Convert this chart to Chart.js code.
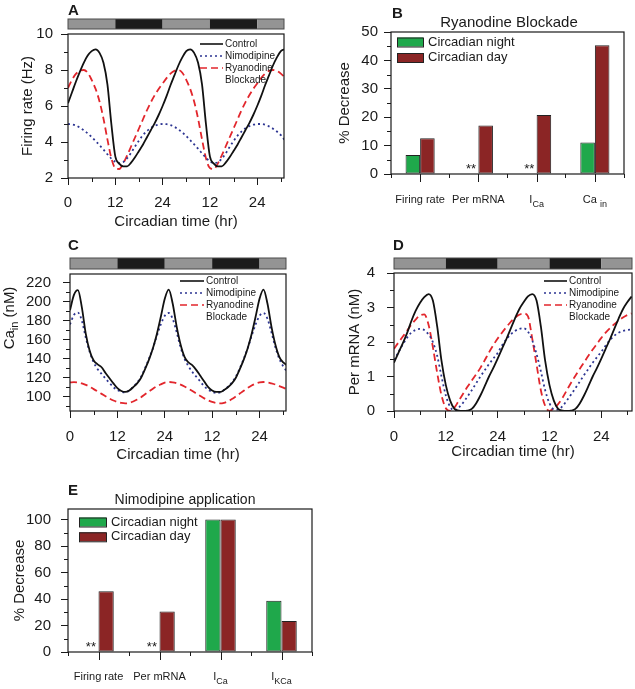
<!DOCTYPE html>
<html>
<head>
<meta charset="utf-8">
<script src="https://cdn.jsdelivr.net/npm/chart.js@4.4.0/dist/chart.umd.min.js"></script>
<style>
  body { margin: 0; background: #fff; }
  #fig { position: relative; width: 635px; height: 689px; overflow: hidden; }
  #fig canvas { position: absolute; }
</style>
</head>
<body>
<div id="fig">
  <canvas id="panelA" width="318" height="240" style="left:0;top:0"></canvas>
  <canvas id="panelB" width="315" height="215" style="left:320px;top:0"></canvas>
  <canvas id="panelC" width="318" height="240" style="left:0;top:230px"></canvas>
  <canvas id="panelD" width="315" height="240" style="left:320px;top:230px"></canvas>
  <canvas id="panelE" width="318" height="209" style="left:0;top:480px"></canvas>
</div>
<script>
const FONT = '"Liberation Sans", Arial, sans-serif';
const INK = '#1a1a1a';
Chart.defaults.font.family = FONT;
Chart.defaults.color = INK;

// ---- data ----
const hours = [0, 1, 2, 3, 4, 5, 6, 7, 8, 9, 10, 11, 12, 13, 14, 15, 16, 17, 18, 19, 20, 21, 22, 23,
  24, 25, 26, 27, 28, 29, 30, 31, 32, 33, 34, 35, 36, 37, 38, 39, 40, 41, 42, 43, 44, 45, 46, 47,
  48, 49, 50, 51, 52, 53, 54, 55];
const timeTicks = [0, 12, 24, 36, 48];
const timeTickLabels = ['0', '12', '24', '12', '24'];
const timeMinor = [6, 18, 30, 42, 54];
const phaseEdges = [0, 12, 24, 36, 48, 56];
const phaseDark = [false, true, false, true, false];
const seriesNames = ['Control', 'Nimodipine', 'Ryanodine Blockade'];

// A: firing rate (Hz)
const firingControl = [6.15, 6.75, 7.35, 7.9, 8.4, 8.8, 9.05, 9.15, 8.95, 8.4, 7.2, 5.0, 3.2, 2.8, 2.65, 2.65, 2.85, 3.15, 3.5, 3.85, 4.25, 4.65, 5.05, 5.5,
  6.0, 6.55, 7.15, 7.7, 8.25, 8.7, 9.05, 9.15, 8.95, 8.4, 7.2, 5.0, 3.2, 2.8, 2.65, 2.65, 2.85, 3.15, 3.5, 3.85, 4.25, 4.65, 5.05, 5.5,
  6.0, 6.55, 7.15, 7.7, 8.25, 8.7, 9.05, 9.15];
const firingNimodipine = [5.0, 4.98, 4.92, 4.8, 4.65, 4.48, 4.28, 4.05, 3.82, 3.58, 3.32, 3.08, 2.9, 2.82, 2.88, 3.1, 3.4, 3.75, 4.08, 4.38, 4.6, 4.78, 4.9, 4.97,
  5.0, 4.99, 4.94, 4.84, 4.7, 4.53, 4.33, 4.1, 3.87, 3.63, 3.37, 3.12, 2.93, 2.83, 2.87, 3.07, 3.37, 3.72, 4.05, 4.35, 4.58, 4.76, 4.88, 4.96,
  5.0, 5.0, 4.96, 4.87, 4.74, 4.58, 4.38, 4.1];
const firingRyanodine = [7.0, 7.45, 7.78, 7.95, 8.0, 7.85, 7.45, 6.95, 6.25, 5.3, 4.15, 3.1, 2.55, 2.5, 2.8, 3.25, 3.75, 4.25, 4.75, 5.25, 5.75, 6.2, 6.6, 6.95,
  7.25, 7.55, 7.8, 7.95, 8.0, 7.85, 7.45, 6.95, 6.25, 5.3, 4.15, 3.1, 2.55, 2.5, 2.8, 3.25, 3.75, 4.25, 4.75, 5.25, 5.75, 6.2, 6.6, 6.95,
  7.25, 7.55, 7.8, 7.95, 8.0, 7.95, 7.8, 7.6];

// C: Ca_in (nM)
const caControl = [191, 207, 212, 194, 166, 148, 138, 134, 131, 125, 119.5, 114, 109, 106, 105, 106.5, 110, 114, 120, 129, 139, 151, 166, 184,
  203, 212.5, 198, 174, 155, 142, 136, 133, 128, 122, 116, 110, 106.5, 105, 105, 107, 110, 114, 120, 129, 139, 151, 166, 184,
  203, 212.5, 198, 174, 155, 142, 136, 133];
const caNimodipine = [176, 186, 188.5, 180, 162, 147, 136, 129, 124, 119, 114.5, 110, 107, 105, 104.5, 106.5, 110.5, 115, 121, 130, 140, 151, 164, 176,
  185, 188, 182, 168, 152, 140, 132, 126, 121, 116, 111, 107.5, 105, 104, 104.5, 107, 110.5, 115, 121, 130, 140, 151, 164, 176,
  185, 188, 182, 168, 152, 140, 132, 126];
const caRyanodine = [115, 115.3, 115, 114, 112.5, 110.5, 108, 105.5, 103, 100.5, 98, 96, 94.5, 93.5, 93, 93.5, 95, 97, 99.5, 102.5, 105.5, 108.5, 111, 113,
  114.8, 115.5, 115.2, 114.3, 112.8, 110.8, 108.5, 106, 103.3, 100.8, 98.3, 96.2, 94.5, 93.3, 93, 93.6, 95.2, 97.5, 100.3, 103.3, 106.3, 109.2, 111.8, 113.8,
  115.2, 115.5, 115, 114, 112.8, 111.2, 109.5, 107.7];

// D: Per mRNA (nM)
const perControl = [1.4, 1.68, 1.95, 2.25, 2.6, 2.9, 3.13, 3.3, 3.39, 3.2, 2.45, 1.45, 0.75, 0.3, 0.06, 0.01, 0, 0.01, 0.06, 0.22, 0.45, 0.72, 1.0, 1.25,
  1.52, 1.8, 2.08, 2.38, 2.68, 2.95, 3.15, 3.32, 3.39, 3.2, 2.45, 1.45, 0.75, 0.3, 0.06, 0.01, 0, 0.01, 0.06, 0.22, 0.45, 0.72, 1.0, 1.25,
  1.52, 1.8, 2.08, 2.38, 2.68, 2.95, 3.15, 3.32];
const perNimodipine = [1.48, 1.7, 1.92, 2.12, 2.27, 2.35, 2.38, 2.35, 2.22, 2.0, 1.6, 1.0, 0.45, 0.12, 0.02, 0.1, 0.24, 0.42, 0.6, 0.8, 1.0, 1.18, 1.36, 1.52,
  1.68, 1.9, 2.08, 2.22, 2.32, 2.38, 2.4, 2.3, 2.05, 1.65, 1.15, 0.6, 0.22, 0.05, 0.04, 0.14, 0.3, 0.48, 0.66, 0.85, 1.04, 1.22, 1.4, 1.56,
  1.72, 1.9, 2.06, 2.18, 2.27, 2.32, 2.35, 2.36];
const perRyanodine = [1.8, 1.98, 2.15, 2.32, 2.5, 2.65, 2.77, 2.8, 2.5, 1.85, 1.1, 0.45, 0.08, 0, 0.1, 0.3, 0.5, 0.7, 0.88, 1.06, 1.25, 1.47, 1.7, 1.91,
  2.1, 2.27, 2.43, 2.58, 2.7, 2.79, 2.83, 2.75, 2.1, 1.35, 0.6, 0.15, 0, 0.08, 0.2, 0.38, 0.6, 0.82, 1.02, 1.22, 1.41, 1.6, 1.78, 1.95,
  2.12, 2.27, 2.4, 2.52, 2.62, 2.71, 2.78, 2.83];

// B and E: % decrease
const barSeries = ['Circadian night', 'Circadian day'];
const ryanCategories = ['Firing rate', 'Per mRNA', 'I_{Ca}', 'Ca _{in}'];
const ryanNight = [6.7, null, null, 11.1];
const ryanDay = [12.6, 17.1, 20.8, 45.3];
const nimoCategories = ['Firing rate', 'Per mRNA', 'I_{Ca}', 'I_{KCa}'];
const nimoNight = [null, null, 100, 38.7];
const nimoDay = [45.8, 30.5, 100, 23.4];

// ---- styles ----
const lineStyles = [
  { color: '#111111', dash: [], width: 1.8 },
  { color: '#2d3592', dash: [2, 3], width: 1.8 },
  { color: '#e2262c', dash: [7, 4], width: 1.8 }
];
const barColors = ['#1fa84b', '#8b2525'];

// text with _{sub} parts
function segs(s) {
  const out = [];
  const re = /_\{([^}]*)\}/g;
  let last = 0, m;
  while ((m = re.exec(s))) {
    if (m.index > last) out.push({ t: s.slice(last, m.index), sub: false });
    out.push({ t: m[1], sub: true });
    last = re.lastIndex;
  }
  if (last < s.length) out.push({ t: s.slice(last), sub: false });
  return out;
}

function drawRich(ctx, s, x, y, size, subSize, drop) {
  const parts = segs(s);
  let total = 0;
  parts.forEach(p => {
    ctx.font = (p.sub ? subSize : size) + 'px ' + FONT;
    p.w = ctx.measureText(p.t).width;
    total += p.w;
  });
  let cx = x - total / 2;
  ctx.textAlign = 'left';
  ctx.textBaseline = 'middle';
  parts.forEach(p => {
    ctx.font = (p.sub ? subSize : size) + 'px ' + FONT;
    ctx.fillText(p.t, cx, p.sub ? y + drop : y);
    cx += p.w;
  });
}

function decor(P) {
  return {
    id: 'decor',
    afterDraw(chart) {
      const ctx = chart.ctx, a = chart.chartArea;
      const xs = chart.scales.x, ys = chart.scales.y;
      ctx.save();
      ctx.strokeStyle = INK;
      ctx.fillStyle = INK;

      // plot frame
      ctx.lineWidth = 1.2;
      ctx.strokeRect(a.left, a.top, a.right - a.left, a.bottom - a.top);

      // minor ticks
      ctx.lineWidth = 1;
      ctx.beginPath();
      P.yMinor.forEach(v => {
        const y = Math.round(ys.getPixelForValue(v)) + 0.5;
        ctx.moveTo(a.left, y);
        ctx.lineTo(a.left - 4, y);
      });
      if (P.bars) {
        chart.data.labels.forEach((c, i) => {
          const x = Math.round(xs.getPixelForValue(i)) + 0.5;
          ctx.moveTo(x, a.bottom);
          ctx.lineTo(x, a.bottom + 8);
        });
      } else {
        timeMinor.forEach(v => {
          if (v > xs.max) return;
          const x = Math.round(xs.getPixelForValue(v)) + 0.5;
          ctx.moveTo(x, a.bottom);
          ctx.lineTo(x, a.bottom + 4);
        });
      }
      ctx.stroke();

      // day / night bar
      if (P.phase) {
        const [y0, y1] = P.phase;
        for (let i = 0; i < phaseDark.length; i++) {
          const x0 = xs.getPixelForValue(phaseEdges[i]);
          const x1 = xs.getPixelForValue(Math.min(phaseEdges[i + 1], xs.max));
          ctx.fillStyle = phaseDark[i] ? '#1c1c1c' : '#949494';
          ctx.fillRect(x0, y0, x1 - x0, y1 - y0);
        }
        ctx.strokeStyle = '#4a4a4a';
        ctx.lineWidth = 1;
        ctx.strokeRect(a.left, y0, a.right - a.left, y1 - y0);
        ctx.strokeStyle = INK;
        ctx.fillStyle = INK;
      }

      // panel letter
      ctx.font = 'bold 15px ' + FONT;
      ctx.textAlign = 'left';
      ctx.textBaseline = 'alphabetic';
      ctx.fillText(P.letter[0], P.letter[1], P.letter[2]);

      // panel title
      if (P.title) {
        ctx.font = P.title.size + 'px ' + FONT;
        ctx.textAlign = 'center';
        ctx.textBaseline = 'middle';
        ctx.fillText(P.title.text, P.title.x, P.title.y);
      }

      // rotated y title with subscript
      if (P.richY) {
        ctx.save();
        ctx.translate(P.richY.x, P.richY.y);
        ctx.rotate(-Math.PI / 2);
        drawRich(ctx, P.richY.text, 0, 0, 15, 11, 5);
        ctx.restore();
      }

      // line legend
      if (P.legend) {
        const L = P.legend;
        let row = 0;
        ctx.textAlign = 'left';
        ctx.textBaseline = 'middle';
        chart.data.datasets.forEach(ds => {
          const y = L.y + row * L.dy;
          ctx.save();
          ctx.strokeStyle = ds.borderColor;
          ctx.lineWidth = 1.6;
          ctx.setLineDash(ds.borderDash || []);
          ctx.beginPath();
          ctx.moveTo(L.x, y);
          ctx.lineTo(L.x + L.len, y);
          ctx.stroke();
          ctx.restore();
          ctx.font = L.size + 'px ' + FONT;
          const words = ds.label.split(' ');
          ctx.fillText(words[0], L.x + L.len + 2, y);
          row++;
          if (words.length > 1) {
            ctx.fillText(words.slice(1).join(' '), L.x + L.len + 2, L.y + row * L.dy);
            row++;
          }
        });
      }

      // bar legend, category labels, missing-value marks
      if (P.bars) {
        const L = P.barLegend;
        ctx.textAlign = 'left';
        ctx.textBaseline = 'middle';
        chart.data.datasets.forEach((ds, i) => {
          const y = L.y + i * L.dy;
          ctx.fillStyle = ds.backgroundColor;
          ctx.fillRect(L.x, y - L.h / 2, L.w, L.h);
          ctx.strokeStyle = '#222';
          ctx.lineWidth = 1;
          ctx.strokeRect(L.x + 0.5, y - L.h / 2 + 0.5, L.w, L.h);
          ctx.fillStyle = INK;
          ctx.font = '13px ' + FONT;
          ctx.fillText(ds.label, L.x + L.w + 5, y);
        });
        ctx.fillStyle = INK;
        chart.data.labels.forEach((c, i) => {
          drawRich(ctx, c, xs.getPixelForValue(i), a.bottom + P.labelDy, 11, 9, 5);
        });
        const meta = chart.getDatasetMeta(0);
        chart.data.datasets[0].data.forEach((v, i) => {
          if (v !== null) return;
          const el = meta.data[i];
          const x = el && isFinite(el.x) ? el.x : xs.getPixelForValue(i) - 7;
          ctx.font = '13px ' + FONT;
          ctx.textAlign = 'center';
          ctx.textBaseline = 'alphabetic';
          ctx.fillText('**', x, a.bottom - 1);
        });
      }
      ctx.restore();
    }
  };
}

function makeLine(id, P) {
  const datasets = P.series.map((d, i) => ({
    label: seriesNames[i],
    data: d,
    borderColor: lineStyles[i].color,
    borderDash: lineStyles[i].dash,
    borderWidth: lineStyles[i].width,
    pointRadius: 0,
    cubicInterpolationMode: 'monotone',
    fill: false
  }));
  return new Chart(document.getElementById(id), {
    type: 'line',
    data: { labels: hours, datasets },
    options: {
      responsive: false,
      animation: false,
      events: [],
      layout: { padding: P.pad },
      plugins: { legend: { display: false }, tooltip: { enabled: false } },
      scales: {
        x: {
          type: 'linear', min: 0, max: P.xMax,
          afterFit: s => { s.height = P.xH; },
          afterBuildTicks: s => { s.ticks = timeTicks.map(v => ({ value: v })); },
          ticks: { callback: (v, i) => timeTickLabels[i], font: { size: 15 }, padding: P.xPad, color: INK, maxRotation: 0, autoSkip: false },
          grid: { drawOnChartArea: false, color: INK, tickLength: 7 },
          border: { display: false },
          title: { display: true, text: 'Circadian time (hr)', font: { size: 15 }, color: INK, padding: { top: 0, bottom: P.xTitlePad } }
        },
        y: {
          min: P.yMin, max: P.yMax,
          afterFit: s => { s.width = P.yW; },
          afterBuildTicks: s => { s.ticks = P.yTicks.map(v => ({ value: v })); },
          ticks: { font: { size: 15 }, padding: P.yPad, color: INK },
          grid: { drawOnChartArea: false, color: INK, tickLength: 7 },
          border: { display: false },
          title: P.yTitle
            ? { display: true, text: P.yTitle, font: { size: 15 }, color: INK, padding: { top: P.yTitlePad, bottom: 0 } }
            : { display: false }
        }
      }
    },
    plugins: [decor(P)]
  });
}

function makeBars(id, P) {
  const datasets = [P.night, P.day].map((d, i) => ({
    label: barSeries[i],
    data: d,
    backgroundColor: barColors[i],
    borderColor: '#222',
    borderWidth: 1,
    borderSkipped: false,
    categoryPercentage: 0.5,
    barPercentage: 1
  }));
  return new Chart(document.getElementById(id), {
    type: 'bar',
    data: { labels: P.cats, datasets },
    options: {
      responsive: false,
      animation: false,
      events: [],
      layout: { padding: P.pad },
      plugins: { legend: { display: false }, tooltip: { enabled: false } },
      scales: {
        x: {
          afterFit: s => { s.height = P.xH; },
          ticks: { display: false },
          grid: { drawOnChartArea: false, color: INK, tickLength: 4, offset: true },
          border: { display: false }
        },
        y: {
          min: 0, max: P.yMax,
          afterFit: s => { s.width = P.yW; },
          afterBuildTicks: s => { s.ticks = P.yTicks.map(v => ({ value: v })); },
          ticks: { font: { size: 15 }, padding: P.yPad, color: INK },
          grid: { drawOnChartArea: false, color: INK, tickLength: 7 },
          border: { display: false },
          title: { display: true, text: '% Decrease', font: { size: 15 }, color: INK, padding: { top: P.yTitlePad, bottom: 0 } }
        }
      }
    },
    plugins: [decor(P)]
  });
}

makeLine('panelA', {
  series: [firingControl, firingNimodipine, firingRyanodine],
  xMax: 54.8, yMin: 2, yMax: 10, yTicks: [2, 4, 6, 8, 10], yMinor: [3, 5, 7, 9],
  pad: { left: 0, top: 34, right: 34, bottom: 0 }, yW: 68, xH: 62,
  xPad: 9, xTitlePad: 9, yPad: 8, yTitle: 'Firing rate (Hz)', yTitlePad: 19,
  phase: [19, 29], letter: ['A', 68, 15],
  legend: { x: 200, y: 44, dy: 12, len: 23, size: 10 }
});

makeBars('panelB', {
  bars: true, cats: ryanCategories, night: ryanNight, day: ryanDay,
  yMax: 50, yTicks: [0, 10, 20, 30, 40, 50], yMinor: [5, 15, 25, 35, 45],
  pad: { left: 0, top: 32, right: 11, bottom: 0 }, yW: 71, xH: 41,
  yPad: 6, yTitlePad: 16, labelDy: 26,
  letter: ['B', 72, 18], title: { text: 'Ryanodine Blockade', x: 189, y: 23, size: 15 },
  barLegend: { x: 77, y: 42, dy: 15.5, w: 26, h: 9 }
});

makeLine('panelC', {
  series: [caControl, caNimodipine, caRyanodine],
  xMax: 54.7, yMin: 85, yMax: 229, yTicks: [100, 120, 140, 160, 180, 200, 220],
  yMinor: [90, 110, 130, 150, 170, 190, 210],
  pad: { left: 0, top: 44, right: 32, bottom: 0 }, yW: 70, xH: 59,
  xPad: 10, xTitlePad: 6, yPad: 12, yTitle: null,
  richY: { text: 'Ca_{in} (nM)', x: 10, y: 88 },
  phase: [28, 39], letter: ['C', 68, 20],
  legend: { x: 180, y: 51, dy: 12, len: 24, size: 10 }
});

makeLine('panelD', {
  series: [perControl, perNimodipine, perRyanodine],
  xMax: 55.1, yMin: 0, yMax: 4, yTicks: [0, 1, 2, 3, 4], yMinor: [0.5, 1.5, 2.5, 3.5],
  pad: { left: 0, top: 43, right: 3, bottom: 0 }, yW: 74, xH: 59,
  xPad: 10, xTitlePad: 9, yPad: 12, yTitle: 'Per mRNA (nM)', yTitlePad: 26,
  phase: [28, 39], letter: ['D', 73, 20],
  legend: { x: 224, y: 51, dy: 12, len: 23, size: 10 }
});

makeBars('panelE', {
  bars: true, cats: nimoCategories, night: nimoNight, day: nimoDay,
  yMax: 108, yTicks: [0, 20, 40, 60, 80, 100], yMinor: [10, 30, 50, 70, 90],
  pad: { left: 0, top: 29, right: 6, bottom: 0 }, yW: 68, xH: 37,
  yPad: 10, yTitlePad: 11, labelDy: 25,
  letter: ['E', 68, 15], title: { text: 'Nimodipine application', x: 185, y: 20, size: 14 },
  barLegend: { x: 79, y: 42, dy: 14.8, w: 27, h: 9 }
});
</script>
</body>
</html>
